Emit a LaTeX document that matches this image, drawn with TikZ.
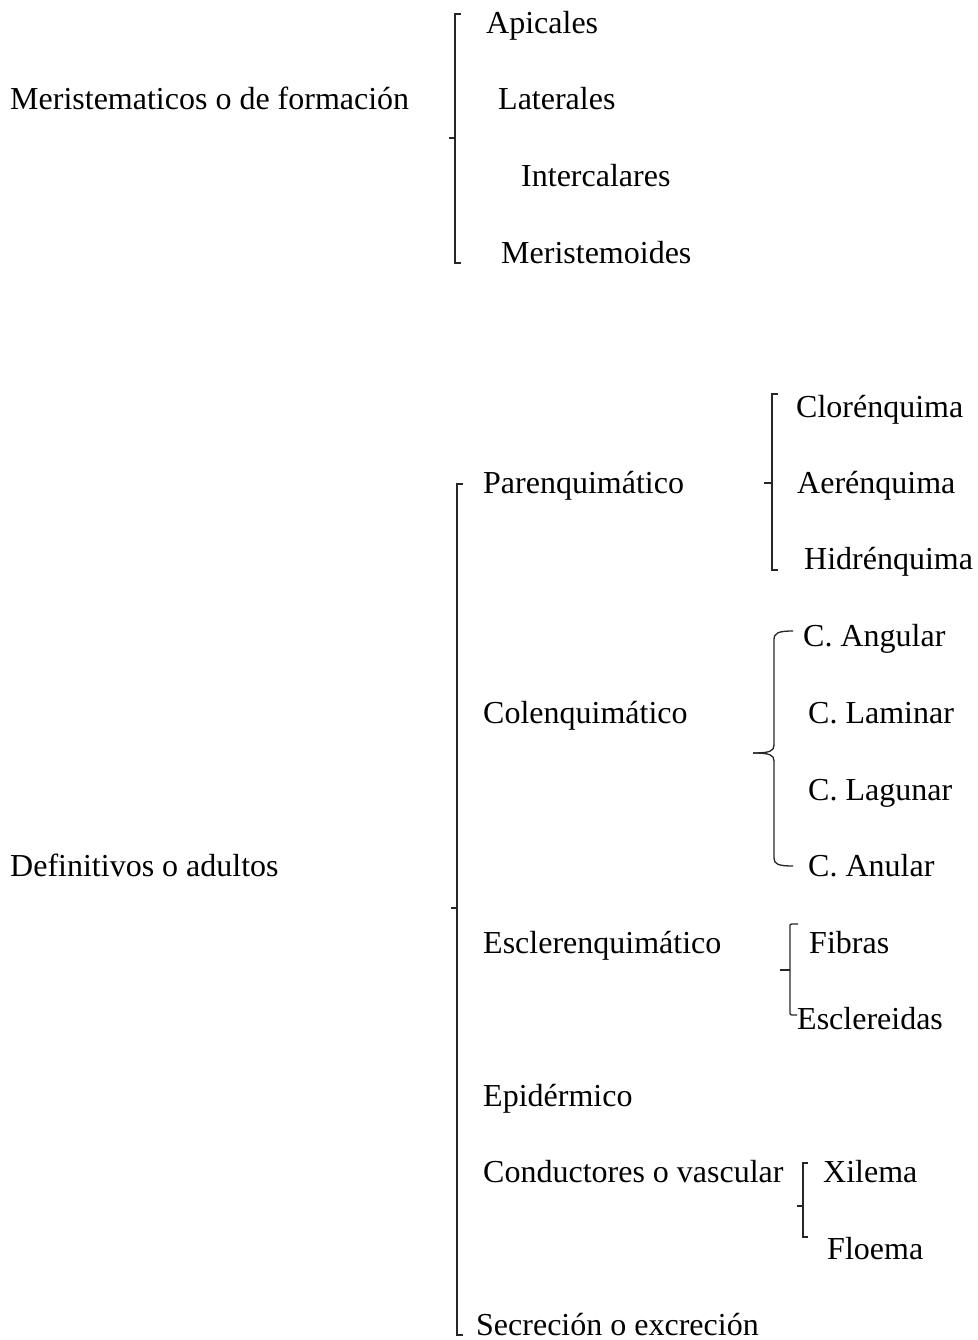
\documentclass[tikz,border=0pt]{standalone}
\usepackage{fontspec}
\setmainfont{Liberation Serif}
\begin{document}
\begin{tikzpicture}[x=1pt,y=-1pt,
  lbl/.style={anchor=base west,inner sep=0pt,font=\fontsize{32}{38}\selectfont},
  brk/.style={draw=black!85,line width=1.3pt}]
\useasboundingbox (0,0) rectangle (977,1340);
% group 1
\node[lbl] (mer) at (10,110) {Meristematicos o de formación};
\node[lbl] (api) at (486,34) {Apicales};
\node[lbl] (lat) at (498,110) {Laterales};
\node[lbl] (int) at (521,187) {Intercalares};
\node[lbl] (mrd) at (501,263) {Meristemoides};
\draw[brk] (461,14) -- (455,14) -- (455,263) -- (461,263);
\draw[brk] (455,138) -- (449,138);
% group 2
\node[lbl] (def) at (10,876) {Definitivos o adultos};
\node[lbl] (par) at (483,493) {Parenquimático};
\node[lbl] (col) at (483,723) {Colenquimático};
\node[lbl] (esc) at (483,953) {Esclerenquimático};
\node[lbl] (epi) at (483,1106) {Epidérmico};
\node[lbl] (con) at (483,1182) {Conductores o vascular};
\node[lbl] (sec) at (476,1335) {Secreción o excreción};
\draw[brk] (463,484) -- (457,484) -- (457,1335) -- (463,1335);
\draw[brk] (457,908) -- (451,908);
% parenquimatico
\node[lbl] (clo) at (796,417) {Clorénquima};
\node[lbl] (aer) at (797,493) {Aerénquima};
\node[lbl] (hid) at (804,569) {Hidrénquima};
\draw[brk] (778,394) -- (772,394) -- (772,570) -- (778,570);
\draw[brk] (772,483) -- (764,483);
% colenquimatico
\node[lbl] (ang) at (803,646) {C. Angular};
\node[lbl] (lam) at (808,723) {C. Laminar};
\node[lbl] (lag) at (808,800) {C. Lagunar};
\node[lbl] (anu) at (808,876) {C. Anular};
\draw[brk] (793,631) .. controls (778,631) and (774,633) .. (774,640) -- (774,745)
  .. controls (774,751) and (770,753) .. (753,753);
\draw[brk] (753,753) .. controls (770,753) and (774,755) .. (774,761) -- (774,858)
  .. controls (774,864) and (778,866) .. (793,866);
% esclerenquimatico
\node[lbl] (fib) at (809,953) {Fibras};
\node[lbl] (scl) at (797,1029) {Esclereidas};
\draw[brk] (798,924) -- (792,924) .. controls (790,924) .. (790,928) -- (790,1011) .. controls (790,1015) .. (794,1015) -- (797,1015);
\draw[brk] (790,970) -- (780,970);
% conductores
\node[lbl] (xil) at (823,1182) {Xilema};
\node[lbl] (flo) at (827,1259) {Floema};
\draw[brk] (808,1163) -- (803,1163) -- (803,1237) -- (808,1237);
\draw[brk] (803,1206) -- (797,1206);
\end{tikzpicture}
\end{document}
